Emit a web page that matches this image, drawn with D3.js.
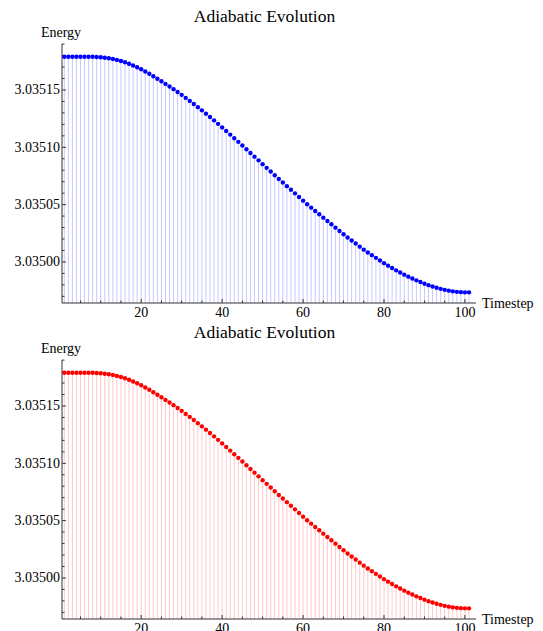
<!DOCTYPE html>
<html><head><meta charset="utf-8">
<script src="https://cdn.jsdelivr.net/npm/d3@7"></script>
<style>
body{margin:0;background:#fff}
svg{display:block}
text{font-family:"Liberation Serif","Times New Roman",serif;fill:#000}
</style>
</head><body>
<svg id="chart" width="543" height="631"></svg>
<script>
// Energy per timestep during the adiabatic evolution
const titleText = "Adiabatic Evolution";
const xLabel = "Timestep";
const yLabel = "Energy";
const timesteps = d3.range(1, 102);
const energy = [
  3.03517904, 3.03517904, 3.03517904, 3.03517904, 3.03517904, 3.03517904, 3.03517904, 3.03517895, 3.03517878, 3.03517852,
  3.03517817, 3.03517765, 3.03517704, 3.03517625, 3.03517529, 3.03517416, 3.03517285, 3.03517137, 3.03516980, 3.03516805,
  3.03516613, 3.03516413, 3.03516203, 3.03515985, 3.03515759, 3.03515532, 3.03515305, 3.03515070, 3.03514826, 3.03514573,
  3.03514311, 3.03514049, 3.03513779, 3.03513500, 3.03513221, 3.03512933, 3.03512645, 3.03512349, 3.03512044, 3.03511738,
  3.03511424, 3.03511110, 3.03510796, 3.03510474, 3.03510151, 3.03509828, 3.03509506, 3.03509183, 3.03508860, 3.03508529,
  3.03508206, 3.03507884, 3.03507561, 3.03507238, 3.03506924, 3.03506610, 3.03506296, 3.03505982, 3.03505660, 3.03505346,
  3.03505032, 3.03504735, 3.03504448, 3.03504160, 3.03503863, 3.03503575, 3.03503288, 3.03502991, 3.03502703, 3.03502416,
  3.03502137, 3.03501866, 3.03501605, 3.03501334, 3.03501073, 3.03500828, 3.03500593, 3.03500357, 3.03500122, 3.03499895,
  3.03499677, 3.03499468, 3.03499267, 3.03499075, 3.03498892, 3.03498718, 3.03498552, 3.03498395, 3.03498247, 3.03498107,
  3.03497977, 3.03497854, 3.03497750, 3.03497654, 3.03497567, 3.03497497, 3.03497436, 3.03497392, 3.03497366, 3.03497349,
  3.03497349
];
const xTicksMajor = [20, 40, 60, 80, 100];
const xTicksMinor = [5, 10, 15, 25, 30, 35, 45, 50, 55, 65, 70, 75, 85, 90, 95];
const yTicksMajor = [3.03500, 3.03505, 3.03510, 3.03515];
const yTicksMinor = [3.03497, 3.03498, 3.03499, 3.03501, 3.03502, 3.03503, 3.03504,
                     3.03506, 3.03507, 3.03508, 3.03509, 3.03511, 3.03512, 3.03513,
                     3.03514, 3.03516, 3.03517, 3.03518, 3.03519];
const pointColors = ["#0000ff", "#ff0000"];
const stemColors = ["#c8c8ff", "#ffc8c8"];

const svg = d3.select("#chart");
const panelOffsets = [0, 316];

const x = d3.scaleLinear().domain([0.43, 102.73]).range([62, 476]);
const y = d3.scaleLinear().domain([3.0349642, 3.0351901]).range([303, 44]);
const axisColor = "#333";
const fmt = d3.format(".5f");

pointColors.forEach((pc, i) => {
  const g = svg.append("g").attr("transform", `translate(0,${panelOffsets[i]})`);
  const [y0] = y.range();

  // stems down to the horizontal axis
  g.append("g").selectAll("line").data(timesteps).join("line")
    .attr("x1", t => x(t)).attr("x2", t => x(t))
    .attr("y1", y0).attr("y2", (t, k) => y(energy[k]))
    .attr("stroke", stemColors[i]).attr("stroke-width", 1);

  // axes
  g.append("line").attr("x1", x.range()[0]).attr("x2", x.range()[1])
    .attr("y1", y0).attr("y2", y0).attr("stroke", axisColor).attr("stroke-width", 1);
  g.append("line").attr("x1", x.range()[0]).attr("x2", x.range()[0])
    .attr("y1", y.range()[0]).attr("y2", y.range()[1]).attr("stroke", axisColor).attr("stroke-width", 1);

  // x ticks
  g.append("g").selectAll("line").data(xTicksMajor).join("line")
    .attr("x1", d => x(d)).attr("x2", d => x(d)).attr("y1", y0).attr("y2", y0 - 4)
    .attr("stroke", axisColor);
  g.append("g").selectAll("line").data(xTicksMinor).join("line")
    .attr("x1", d => x(d)).attr("x2", d => x(d)).attr("y1", y0).attr("y2", y0 - 2.5)
    .attr("stroke", axisColor);
  g.append("g").selectAll("text").data(xTicksMajor).join("text")
    .attr("x", d => x(d)).attr("y", y0 + 14).attr("text-anchor", "middle")
    .attr("font-size", 14).text(d => d);

  // y ticks
  const xa = x.range()[0];
  g.append("g").selectAll("line").data(yTicksMajor).join("line")
    .attr("x1", xa).attr("x2", xa + 4).attr("y1", d => y(d)).attr("y2", d => y(d))
    .attr("stroke", axisColor);
  g.append("g").selectAll("line").data(yTicksMinor).join("line")
    .attr("x1", xa).attr("x2", xa + 2.5).attr("y1", d => y(d)).attr("y2", d => y(d))
    .attr("stroke", axisColor);
  g.append("g").selectAll("text").data(yTicksMajor).join("text")
    .attr("x", xa - 2).attr("y", d => y(d) + 4.5).attr("text-anchor", "end")
    .attr("font-size", 14).text(d => fmt(d));

  // points
  g.append("g").selectAll("circle").data(timesteps).join("circle")
    .attr("cx", t => x(t)).attr("cy", (t, k) => y(energy[k])).attr("r", 2.2)
    .attr("fill", pc);

  // labels
  g.append("text").attr("x", 264.5).attr("y", 22).attr("text-anchor", "middle")
    .attr("font-size", 17.5).text(titleText);
  g.append("text").attr("x", 61).attr("y", 36.5).attr("text-anchor", "middle")
    .attr("font-size", 14).text(yLabel);
  g.append("text").attr("x", 482).attr("y", 307.5)
    .attr("font-size", 14).text(xLabel);
});
</script>
</body></html>
